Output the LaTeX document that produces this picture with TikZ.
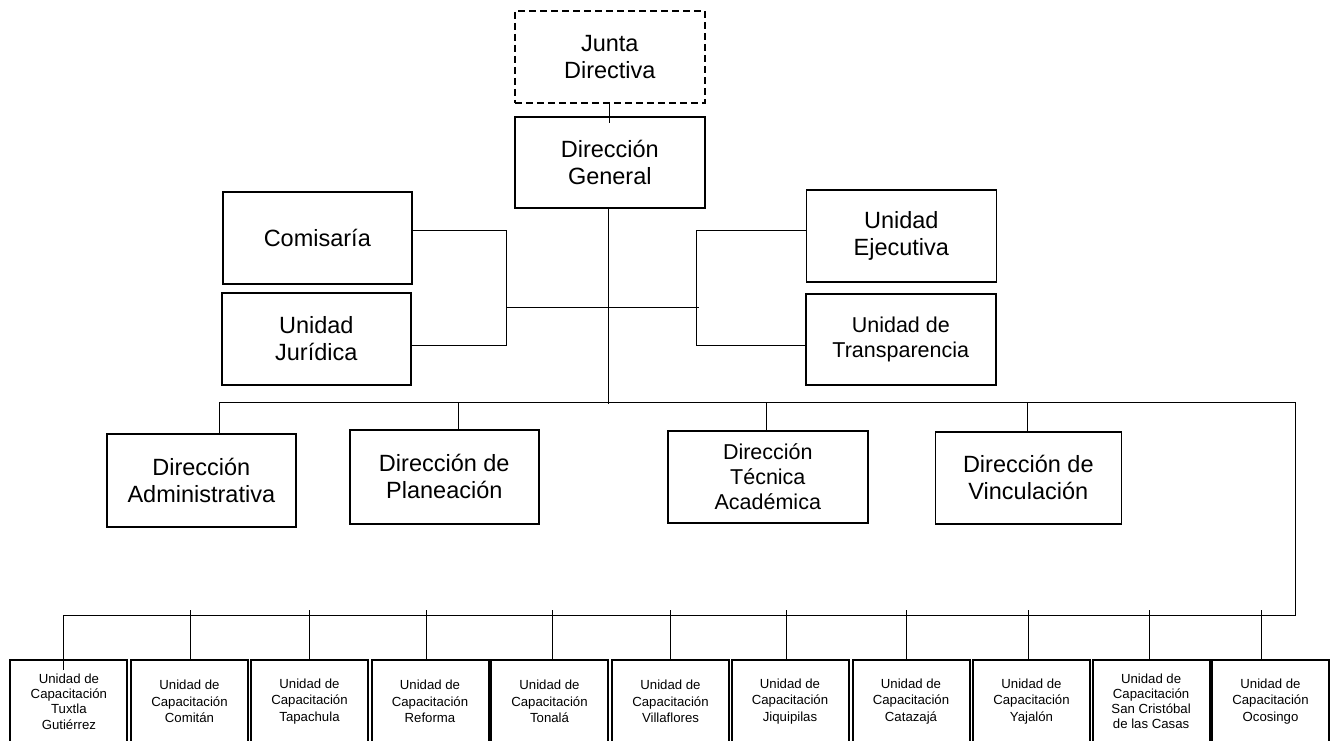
\documentclass[tikz,border=0pt]{standalone}
\usepackage{fontspec}
\setmainfont{Liberation Sans}
\begin{document}
\begin{tikzpicture}[x=1pt,y=-1pt,
  box/.style={draw=black, line width=1.6pt, fill=white, anchor=north west, inner sep=0pt,
    align=center, font=\fontsize{23.5}{27}\selectfont},
  smallfont/.style={font=\fontsize{21.5}{25}\selectfont},
  unitbox/.style={draw=black, line width=2pt, fill=white, anchor=north west, inner sep=0pt,
    minimum width=117pt, minimum height=83pt, align=center, font=\fontsize{13.2}{16.5}\selectfont},
  conn/.style={draw=black, line width=1pt}]
\useasboundingbox (0,0) rectangle (1330,740);
\fill[white] (0,0) rectangle (1330,740);

% top
\node[box, dash pattern=on 7pt off 4pt, minimum width=190pt, minimum height=92pt] (junta) at (514,10) {Junta\\Directiva};
\node[box, minimum width=190pt, minimum height=91pt] (dg) at (514,116) {Dirección\\General};
\draw[conn] (junta.south) -- ([yshift=-7pt]dg.north);

% staff units
\node[box, minimum width=189pt, minimum height=92pt] (com) at (222,191) {Comisaría};
\node[box, minimum width=189pt, minimum height=92pt] (jur) at (221,292) {Unidad\\Jurídica};
\node[box, minimum width=190pt, minimum height=92pt] (eje) at (805.5,189) {Unidad\\Ejecutiva};
\node[box, smallfont, minimum width=190pt, minimum height=91pt] (tra) at (805,293) {Unidad de\\Transparencia};

\coordinate (lbt) at (506.5,230);
\coordinate (lbb) at (506.5,345.5);
\coordinate (lbm) at (506.5,307);
\coordinate (rbt) at (696.6,230);
\coordinate (rbb) at (696.6,345.5);
\coordinate (rbm) at (698.5,307);
\draw[conn] (com.east |- lbt) -- (lbt) -- (lbb) -- (jur.east |- lbb);
\draw[conn] (eje.west |- rbt) -- (rbt) -- (rbb) -- (tra.west |- rbb);
\draw[conn] (lbm) -- (rbm);

% directions
\coordinate (bus) at (608,404);
\draw[conn] (dg.south -| bus) -- (bus);
\coordinate (bl) at (219.6,402);
\coordinate (br) at (1295,402);
\coordinate (bbr) at (1295,615);
\coordinate (bbl) at (63,615);
\draw[conn] (bl) -- (br) -- (bbr) -- (bbl);

\node[box, minimum width=189pt, minimum height=93pt] (adm) at (106,433) {Dirección\\Administrativa};
\node[box, minimum width=189pt, minimum height=94pt] (pla) at (349,429) {Dirección de\\Planeación};
\node[box, smallfont, minimum width=200pt, minimum height=92pt] (tec) at (667,430) {Dirección\\Técnica\\Académica};
\node[box, minimum width=186pt, minimum height=92pt] (vin) at (934.5,431) {Dirección de\\Vinculación};

\draw[conn] (bl) -- (bl |- adm.north);
\coordinate (dpla) at (458,402);
\draw[conn] (dpla) -- (dpla |- pla.north);
\coordinate (dtec) at (766.8,402);
\draw[conn] (dtec) -- (dtec |- tec.north);
\coordinate (dvin) at (1027.5,402);
\draw[conn] (dvin) -- (dvin |- vin.north);

% training units
\node[unitbox, font=\fontsize{13.2}{15.3}\selectfont] (u1) at (9.4,659) {Unidad de\\Capacitación\\Tuxtla\\Gutiérrez};
\node[unitbox] (u2) at (130,659) {Unidad de\\Capacitación\\Comitán};
\node[unitbox] (u3) at (250,659) {Unidad de\\Capacitación\\Tapachula};
\node[unitbox] (u4) at (370.5,659) {Unidad de\\Capacitación\\Reforma};
\node[unitbox] (u5) at (490,659) {Unidad de\\Capacitación\\Tonalá};
\node[unitbox] (u6) at (611,659) {Unidad de\\Capacitación\\Villaflores};
\node[unitbox] (u7) at (730.5,659) {Unidad de\\Capacitación\\Jiquipilas};
\node[unitbox] (u8) at (851.5,659) {Unidad de\\Capacitación\\Catazajá};
\node[unitbox] (u9) at (972,659) {Unidad de\\Capacitación\\Yajalón};
\node[unitbox, font=\fontsize{13.2}{15}\selectfont] (u10) at (1091.6,659) {Unidad de\\Capacitación\\San Cristóbal\\de las Casas};
\node[unitbox] (u11) at (1211,659) {Unidad de\\Capacitación\\Ocosingo};

\draw[conn] (bbl) -- ([yshift=-11pt]bbl |- u1.north);
\foreach \n/\x in {u2/190.6, u3/309, u4/426, u5/552, u6/670, u7/786, u8/906.5, u9/1028, u10/1149, u11/1261.5}{
  \coordinate (d\n) at (\x,610);
  \draw[conn] (d\n) -- (d\n |- \n.north);
}
\end{tikzpicture}
\end{document}
